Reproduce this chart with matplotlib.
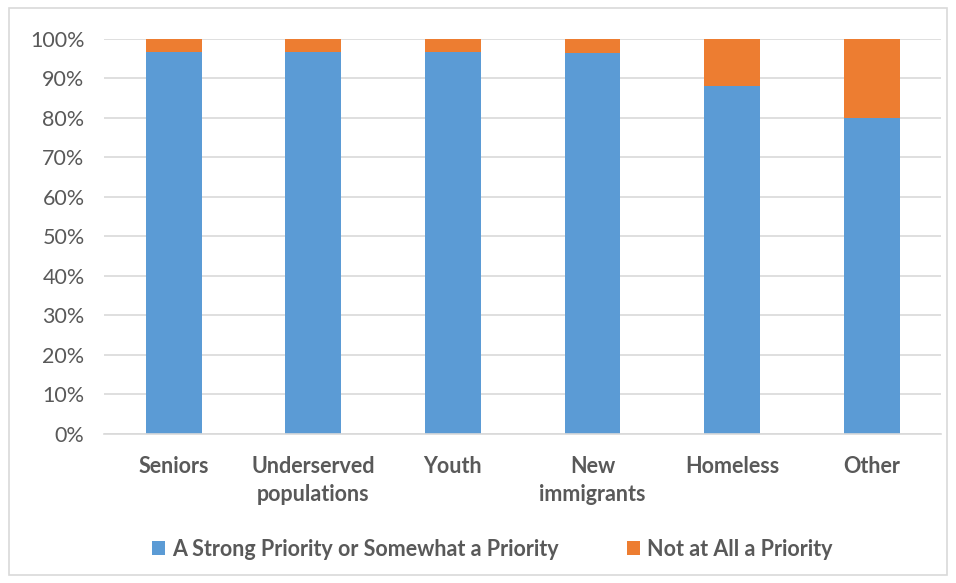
import matplotlib
matplotlib.use("Agg")
import matplotlib.pyplot as plt
from matplotlib.patches import Rectangle

categories = ["Seniors", "Underserved\npopulations", "Youth", "New\nimmigrants", "Homeless", "Other"]
priority = [96.6, 96.7, 96.7, 96.5, 88.0, 80.0]
not_priority = [3.4, 3.3, 3.3, 3.5, 12.0, 20.0]
series_names = ["A Strong Priority or Somewhat a Priority", "Not at All a Priority"]

blue = "#5B9BD5"
orange = "#ED7D31"
text_gray = "#595959"

plt.rcParams['font.family'] = ['Lato', 'DejaVu Sans']

fig = plt.figure(figsize=(9.56, 5.83), dpi=100)
ax = fig.add_axes([0.1088, 0.2556, 0.876, 0.678])

x = range(len(categories))
ax.bar(x, priority, width=0.4, color=blue, label=series_names[0], zorder=2)
ax.bar(x, not_priority, width=0.4, bottom=priority, color=orange, label=series_names[1], zorder=2)

ax.set_xlim(-0.5, len(categories) - 0.5)
ax.set_ylim(0, 100)
ax.set_yticks(range(0, 101, 10))
ax.set_yticklabels([f"{v}%" for v in range(0, 101, 10)])
ax.set_xticks(list(x))
ax.set_xticklabels(categories, fontweight="bold", fontsize=15.5, color=text_gray, va="top", linespacing=1.4)
ax.tick_params(axis="y", labelsize=15.5, labelcolor=text_gray, length=0, pad=14)
ax.tick_params(axis="x", length=0, pad=16)

ax.grid(axis="y", color="#D9D9D9", linewidth=1.2, zorder=0)
for s in ["top", "right", "left"]:
    ax.spines[s].set_visible(False)
ax.spines["bottom"].set_color("#D9D9D9")
ax.spines["bottom"].set_linewidth(1.2)

leg = fig.legend(loc="center", bbox_to_anchor=(0.515, 0.058), ncol=2, frameon=False,
                 prop={"size": 15.5, "weight": "bold"}, handlelength=0.6, handleheight=0.6,
                 handletextpad=0.3, columnspacing=3.2)
for t in leg.get_texts():
    t.set_color(text_gray)

fig.patches.append(Rectangle((0.009, 0.013), 0.982, 0.974, transform=fig.transFigure,
                             fill=False, edgecolor="#D9D9D9", linewidth=1.2))

fig.savefig("out.png", dpi=100)
